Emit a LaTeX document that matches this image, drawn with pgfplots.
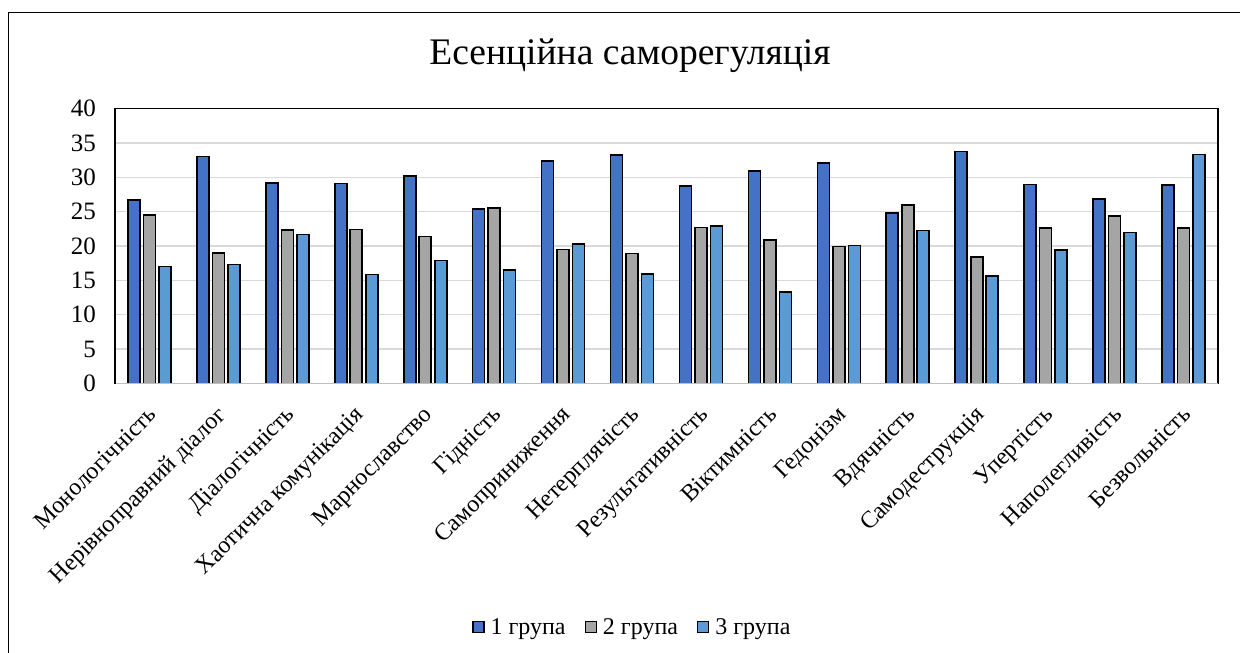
\documentclass[border=0pt]{standalone}
\usepackage{fontspec}
\setmainfont{Liberation Serif}
\usepackage{pgfplots}
\pgfplotsset{compat=1.18}
\definecolor{gOne}{HTML}{4472C4}
\definecolor{gTwo}{HTML}{A5A5A5}
\definecolor{gThree}{HTML}{5B9BD5}
\definecolor{gridgray}{HTML}{D9D9D9}
\definecolor{basegray}{HTML}{BFBFBF}
\begin{document}
\begin{tikzpicture}[x=1pt,y=1pt]
\useasboundingbox (0,0) rectangle (1240,653);
% outer chart frame
\draw[line width=1.4pt] (8.5,-20) rectangle (1260,640.5);
% title
\node[font=\fontsize{37.5}{42}\selectfont] at (630,597) {Есенційна саморегуляція};
\begin{axis}[
  at={(115pt,269.5pt)}, anchor=south west,
  scale only axis, width=1103pt, height=275pt,
  ybar=3.5pt, bar width=12pt,
  xmin=-0.5, xmax=15.5, ymin=0, ymax=40,
  xtick=data,
  xticklabels={Монологічність, Нерівноправний діалог, Діалогічність, Хаотична комунікація, Марнославство, Гідність, Самоприниження, Нетерплячість, Результативність, Віктимність, Гедонізм, Вдячність, Самодеструкція, Упертість, Наполегливість, Безвольність},
  ytick={0,5,...,40},
  major tick length=0pt,
  /pgf/number format/assume math mode=true,
  tick label style={font=\fontsize{25}{28}\selectfont},
  yticklabel style={anchor=east, inner sep=0pt, xshift=-19pt},
  xticklabel style={font=\fontsize{24}{27}\selectfont, yshift=-21pt, xshift=-3pt, rotate=45, anchor=north east, inner sep=0pt},
  ymajorgrids, grid style={gridgray, line width=1.4pt},
  axis line style={black, line width=1.4pt},
  legend style={at={(0.469,-0.885)}, anchor=center, draw=none, legend columns=3,
    font=\fontsize{24}{27}\selectfont,
    /tikz/every odd column/.append style={column sep=4pt},
    /tikz/every even column/.append style={column sep=17pt}},
  legend image code/.code={\draw[#1, line width=1.4pt] (0pt,-5.5pt) rectangle (11pt,5.5pt);},
]
\addplot[draw=black, line width=1.6pt, fill=gOne] coordinates {(0,26.7) (1,33.0) (2,29.2) (3,29.1) (4,30.2) (5,25.4) (6,32.4) (7,33.2) (8,28.75) (9,30.9) (10,32.1) (11,24.8) (12,33.75) (13,28.95) (14,26.8) (15,28.85)};
\addplot[draw=black, line width=1.6pt, fill=gTwo] coordinates {(0,24.5) (1,19.0) (2,22.35) (3,22.4) (4,21.4) (5,25.5) (6,19.5) (7,18.9) (8,22.7) (9,20.85) (10,19.9) (11,26.0) (12,18.4) (13,22.6) (14,24.35) (15,22.6)};
\addplot[draw=black, line width=1.6pt, fill=gThree] coordinates {(0,17.0) (1,17.3) (2,21.7) (3,15.85) (4,17.9) (5,16.5) (6,20.3) (7,15.95) (8,22.9) (9,13.3) (10,20.1) (11,22.25) (12,15.65) (13,19.45) (14,21.95) (15,33.3)};
\legend{1 група, 2 група, 3 група}
\draw[basegray, line width=1.6pt] (rel axis cs:0.001,0) -- (rel axis cs:1,0);
\end{axis}
\end{tikzpicture}
\end{document}
